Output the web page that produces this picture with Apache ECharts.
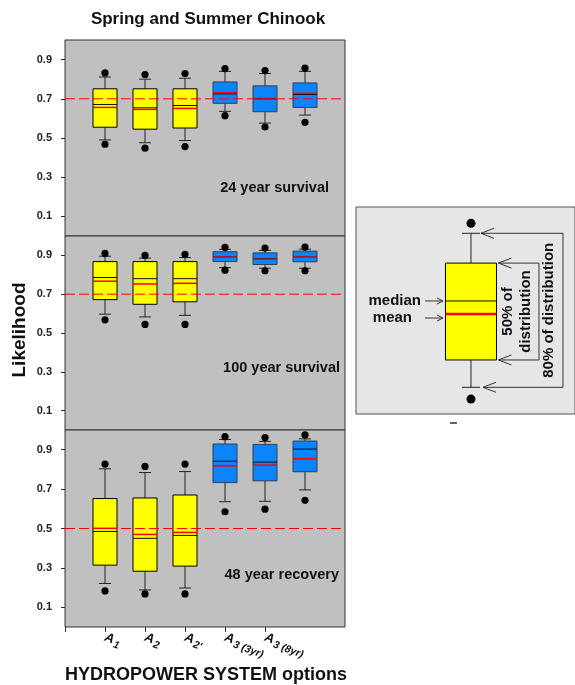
<!DOCTYPE html>
<html><head><meta charset="utf-8">
<script src="https://cdn.jsdelivr.net/npm/echarts@6/dist/echarts.min.js"></script>
<style>html,body{margin:0;padding:0;background:#fff}#c{width:575px;height:685px}</style>
</head><body><div id="c"></div>
<script>
const categories = ['A1', 'A2', "A2'", 'A3 (3yr)', 'A3 (8yr)', 'B1'];
const xTickValues = [1, 2, 3, 4, 5, 6];
const yTickLabels = [0.1, 0.3, 0.5, 0.7, 0.9];
// each row: [upper dot, upper whisker, box top, median, mean, box bottom, lower whisker, lower dot]
const survival24 = [
  [0.832, 0.811, 0.751, 0.671, 0.656, 0.555, 0.490, 0.468],
  [0.824, 0.800, 0.751, 0.654, 0.646, 0.545, 0.476, 0.448],
  [0.829, 0.805, 0.751, 0.666, 0.651, 0.551, 0.487, 0.456],
  [0.854, 0.840, 0.786, 0.725, 0.731, 0.677, 0.636, 0.614],
  [0.844, 0.829, 0.766, 0.702, 0.698, 0.634, 0.576, 0.556],
  [0.856, 0.840, 0.781, 0.722, 0.728, 0.656, 0.617, 0.580]
];
const survival100 = [
  [0.910, 0.896, 0.868, 0.786, 0.767, 0.672, 0.597, 0.568],
  [0.900, 0.886, 0.868, 0.780, 0.753, 0.648, 0.583, 0.544],
  [0.905, 0.889, 0.868, 0.780, 0.756, 0.661, 0.591, 0.544],
  [0.941, 0.931, 0.919, 0.892, 0.891, 0.868, 0.837, 0.824],
  [0.938, 0.926, 0.913, 0.883, 0.880, 0.853, 0.834, 0.821],
  [0.943, 0.932, 0.922, 0.892, 0.891, 0.867, 0.834, 0.821]
];
const recovery48 = [
  [0.827, 0.803, 0.652, 0.485, 0.501, 0.314, 0.221, 0.183],
  [0.815, 0.784, 0.655, 0.450, 0.470, 0.283, 0.188, 0.168],
  [0.827, 0.789, 0.670, 0.465, 0.480, 0.309, 0.198, 0.168],
  [0.966, 0.952, 0.929, 0.842, 0.818, 0.733, 0.636, 0.585],
  [0.962, 0.942, 0.927, 0.837, 0.822, 0.742, 0.638, 0.598],
  [0.975, 0.955, 0.944, 0.903, 0.854, 0.788, 0.696, 0.643]
];
const referenceLevels = [0.7, 0.7, 0.5];
const panelLabels = ['24 year survival', '100 year survival', '48 year recovery'];
const legendExample = [0.921, 0.873, 0.729, 0.546, 0.483, 0.261, 0.129, 0.072];
const boxColors = ['#ffff00', '#ffff00', '#ffff00', '#0a84ff', '#0a84ff', '#0a84ff'];

const FONT = '"Liberation Sans", Arial, Helvetica, sans-serif';
const chart = echarts.init(document.getElementById('c'), null, {renderer: 'canvas'});

function makeRender(halfW, capHalf, dotR, meanW, colorsFn, borderFn) {
  return function (params, api) {
    const x = api.value(0);
    const py = k => api.coord([x, api.value(k)])[1];
    const cx = api.coord([x, 0])[0];
    const fill = colorsFn(params.dataIndex);
    const stroke = borderFn(params.dataIndex);
    const ln = (x1, y1, x2, y2, c, w) => ({type: 'line', shape: {x1, y1, x2, y2}, style: {stroke: c, lineWidth: w}});
    return {
      type: 'group',
      children: [
        ln(cx, py(3), cx, py(2), '#222', 1),
        ln(cx - capHalf, py(2), cx + capHalf, py(2), '#222', 1),
        ln(cx, py(6), cx, py(7), '#222', 1),
        ln(cx - capHalf, py(7), cx + capHalf, py(7), '#222', 1),
        {type: 'rect', shape: {x: cx - halfW, y: py(3), width: 2 * halfW, height: py(6) - py(3)},
          style: {fill: fill, stroke: stroke, lineWidth: 1}},
        ln(cx - halfW, py(4), cx + halfW, py(4), '#111', 1),
        ln(cx - halfW, py(5), cx + halfW, py(5), '#ff0000', meanW),
        {type: 'circle', shape: {cx: cx, cy: py(1), r: dotR}, style: {fill: '#000'}},
        {type: 'circle', shape: {cx: cx, cy: py(8), r: dotR}, style: {fill: '#000'}}
      ]
    };
  };
}

const panels = [survival24, survival100, recovery48];
const grids = [
  {left: 65, top: 40, width: 280, height: 196},
  {left: 65, top: 236, width: 280, height: 194},
  {left: 65, top: 430, width: 280, height: 197},
  {left: 356, top: 207, width: 219, height: 207}
].map((g, i) => Object.assign(g, {
  show: true,
  backgroundColor: i < 3 ? '#c0c0c0' : '#e6e6e6',
  borderColor: i < 3 ? '#333' : '#555',
  borderWidth: 1
}));

const xAxes = [0, 1, 2].map(i => ({
  type: 'value', gridIndex: i, min: 0, max: 7,
  show: i === 2,
  axisLine: {show: false},
  splitLine: {show: false},
  axisTick: {show: true, customValues: [0].concat(xTickValues), length: 5, lineStyle: {color: '#333'}},
  axisLabel: {
    show: true, customValues: xTickValues, rotate: -20, margin: 10,
    formatter: function (val) {
      const s = categories[xTickValues.indexOf(val)];
      return '{m|' + s.charAt(0) + '}{s|' + s.slice(1) + '}';
    },
    rich: {
      m: {fontFamily: FONT, fontSize: 13, fontStyle: 'italic', fontWeight: 'bold', color: '#111', lineHeight: 16},
      s: {fontFamily: FONT, fontSize: 10.5, fontStyle: 'italic', fontWeight: 'bold', color: '#111', lineHeight: 16, padding: [8, 0, 0, 1]}
    }
  }
}));
xAxes.push({type: 'value', gridIndex: 3, min: 0, max: 1, show: false});

const yAxes = [0, 1, 2].map(i => ({
  type: 'value', gridIndex: i, min: 0, max: 1,
  axisLine: {show: false},
  splitLine: {show: false},
  axisTick: {show: true, customValues: yTickLabels, length: 4, lineStyle: {color: '#333'}},
  axisLabel: {
    customValues: yTickLabels, margin: 13,
    fontFamily: FONT, fontSize: 11, fontWeight: 'bold', color: '#222',
    formatter: v => v.toFixed(1)
  }
}));
yAxes.push({type: 'value', gridIndex: 3, min: 0, max: 1, show: false});

const series = [];
panels.forEach((rows, i) => {
  series.push({
    type: 'custom', xAxisIndex: i, yAxisIndex: i,
    renderItem: makeRender(12, 6, 3.6, 1.5, k => boxColors[k], k => (k < 3 ? '#000' : '#2e3f52')),
    data: rows.map((r, k) => [xTickValues[k]].concat(r)),
    encode: {x: 0, y: [1, 2, 3, 4, 5, 6, 7, 8]},
    animation: false
  });
  series.push({
    type: 'line', xAxisIndex: i, yAxisIndex: i, z: 10,
    symbol: 'none', silent: true, animation: false,
    lineStyle: {color: '#ff0000', type: [10, 4], width: 1},
    data: [[0, referenceLevels[i]], [7, referenceLevels[i]]]
  });
});
const legendX = 0.525;
series.push({
  type: 'custom', xAxisIndex: 3, yAxisIndex: 3,
  renderItem: makeRender(25.5, 9, 4.5, 2.5, () => '#ffff00', () => '#000'),
  data: [[legendX].concat(legendExample)],
  encode: {x: 0, y: [1, 2, 3, 4, 5, 6, 7, 8]},
  animation: false
});

const txt = (x, y, text, size, extra) => ({
  type: 'text', x: x, y: y,
  style: Object.assign({text: text, fontFamily: FONT, fontSize: size, fontWeight: 'bold', fill: '#111',
    textAlign: 'center', textVerticalAlign: 'middle'}, extra || {})
});

const graphics = [
  txt(208, 19, 'Spring and Summer Chinook', 17),
  Object.assign(txt(20, 330, 'Likelihood', 19), {rotation: Math.PI / 2}),
  txt(206, 675, 'HYDROPOWER SYSTEM options', 18),
  txt(329, 188, panelLabels[0], 14.5, {textAlign: 'right'}),
  txt(340, 368, panelLabels[1], 14.5, {textAlign: 'right'}),
  txt(339, 575, panelLabels[2], 14.5, {textAlign: 'right'})
];

chart.setOption({
  animation: false,
  grid: grids, xAxis: xAxes, yAxis: yAxes, series: series,
  graphic: graphics
});

// legend annotations positioned from the legend example values
const P = v => chart.convertToPixel({gridIndex: 3}, [legendX, v]);
const cx = P(0)[0];
const yCapT = P(legendExample[1])[1], yBoxT = P(legendExample[2])[1];
const yMed = P(legendExample[3])[1], yMean = P(legendExample[4])[1];
const yBoxB = P(legendExample[5])[1], yCapB = P(legendExample[6])[1];
const st = {stroke: '#333', lineWidth: 1, fill: null};
const poly = pts => ({type: 'polyline', shape: {points: pts}, style: st});
const openL = (tx, y) => poly([[tx + 13, y - 5], [tx, y], [tx + 13, y + 5]]);
const openR = (tx, y) => poly([[tx - 6, y - 3], [tx, y], [tx - 6, y + 3]]);
const boxR = cx + 25.5;
const legendGraphics = [
  poly([[cx + 10, yCapT], [cx + 92, yCapT], [cx + 92, yCapB], [cx + 12, yCapB]]),
  openL(cx + 10, yCapT), openL(cx + 12, yCapB),
  poly([[boxR + 2, yBoxT], [cx + 68, yBoxT], [cx + 68, yBoxB], [boxR + 2, yBoxB]]),
  openL(boxR + 2, yBoxT), openL(boxR + 2, yBoxB),
  Object.assign(txt(cx + 46, (yBoxT + yBoxB) / 2, '50% of\ndistribution', 15, {lineHeight: 18}), {rotation: Math.PI / 2}),
  Object.assign(txt(cx + 78, (yCapT + yCapB) / 2, '80% of distribution', 15), {rotation: Math.PI / 2}),
  txt(cx - 50, yMed, 'median', 15, {textAlign: 'right'}),
  txt(cx - 59, yMean + 4, 'mean', 15, {textAlign: 'right'}),
  poly([[cx - 46, yMed], [cx - 28, yMed]]), openR(cx - 28, yMed),
  poly([[cx - 46, yMean + 4], [cx - 28, yMean + 4]]), openR(cx - 28, yMean + 4),
  {type: 'line', shape: {x1: 450, y1: 423, x2: 457, y2: 423}, style: {stroke: '#333', lineWidth: 1.5}}
];
chart.setOption({graphic: graphics.concat(legendGraphics)});
</script>
</body></html>
